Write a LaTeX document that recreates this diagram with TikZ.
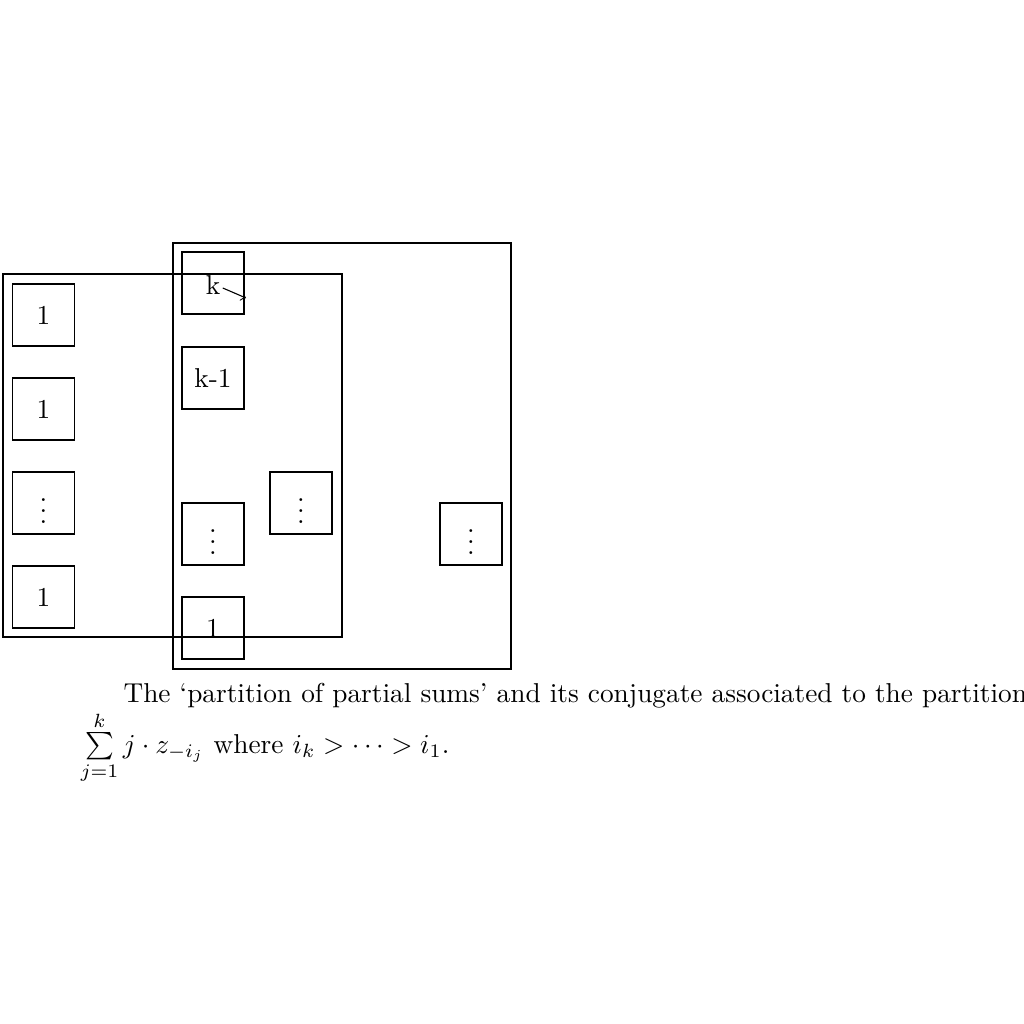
\documentclass[tikz,border=0pt]{standalone}
\usepackage{amsmath}
\begin{document}
\begin{tikzpicture}[x=0.366pt,y=-0.366pt,
  cell/.style={draw,line width=0.4pt,minimum width=62*0.366pt,minimum height=62*0.366pt,inner sep=0pt,font=\normalsize},
  frame/.style={draw,line width=0.4pt}]
\useasboundingbox (0,0) rectangle (1024,1024);
% outer frames
\draw[frame] (3,274) rectangle (342,637);
\draw[frame] (173,243) rectangle (511,669);
% left column
\node[cell] (a1) at (43.5,315) {1};
\node[cell] (a2) at (43.5,409) {1};
\node[cell] (a3) at (43.5,503) {$\vdots$};
\node[cell] (a4) at (43.5,597) {1};
% middle column
\node[cell] (b1) at (213,283) {};
\node[inner sep=0pt] (kt) at (213,285) {k};
\node[cell] (b2) at (213,378) {k-1};
\node[cell] (b3) at (213,534) {$\vdots$};
\node[cell] (b4) at (213,628) {1};
% others
\node[cell] (c1) at (301,503) {$\vdots$};
\node[cell] (d1) at (471,534) {$\vdots$};
\coordinate (kend) at (246,298);
\draw[->,line width=0.4pt] ([shift={(2,3)}]kt.east) -- (kend);
% caption
\node[anchor=north west,align=left,inner sep=0pt] (cap) at (80,683)
  {\hspace*{43\dimexpr0.366pt\relax}The `partition of partial sums' and its conjugate associated to the partition\\
   $\sum\limits_{j=1}^{k} j\cdot z_{-i_j}$ where $i_k>\cdots>i_1$.};
\end{tikzpicture}
\end{document}
